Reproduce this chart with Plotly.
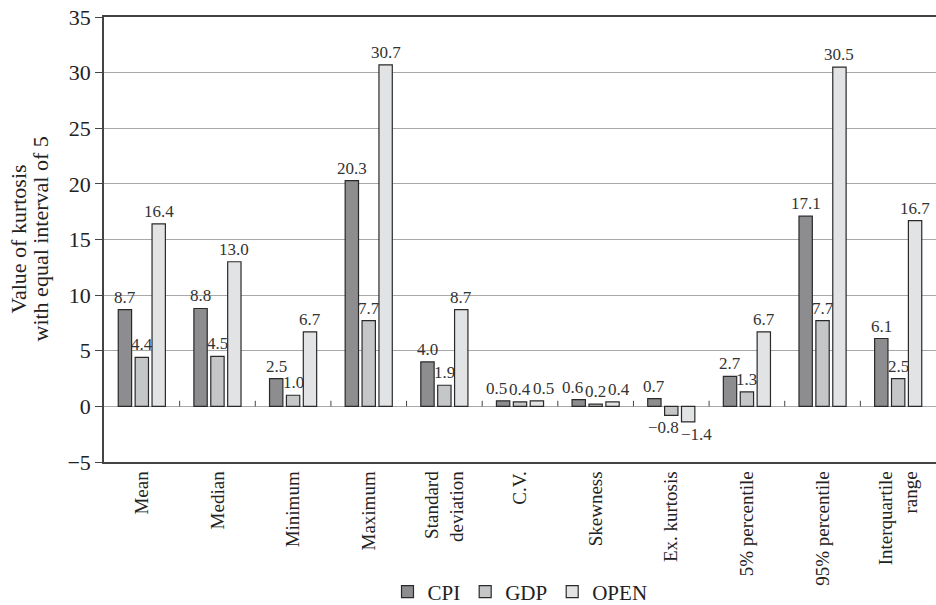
import plotly.graph_objects as go

categories = ["Mean", "Median", "Minimum", "Maximum", "Standard<br>deviation", "C.V.",
              "Skewness", "Ex. kurtosis", "5% percentile", "95% percentile", "Interquartile<br>range"]
cpi = [8.7, 8.8, 2.5, 20.3, 4.0, 0.5, 0.6, 0.7, 2.7, 17.1, 6.1]
gdp = [4.4, 4.5, 1.0, 7.7, 1.9, 0.4, 0.2, -0.8, 1.3, 7.7, 2.5]
open_ = [16.4, 13.0, 6.7, 30.7, 8.7, 0.5, 0.4, -1.4, 6.7, 30.5, 16.7]
series_names = ["CPI", "GDP", "OPEN"]
series_values = [cpi, gdp, open_]
series_colors = ["#8d8d90", "#c5c6c8", "#e2e3e5"]
y_title_lines = ["Value of kurtosis", "with equal interval of 5"]

FONT = "Liberation Serif, Times New Roman, serif"
W, H = 936, 605
ML, MR, MT, MB = 104, 0, 17, 143
YMIN, YMAX = -5, 35
BARGAP, GROUPGAP = 0.33, 0.21
LBL = 17  # label font size

def fmt(v):
    s = f"{abs(v):.1f}"
    return ("\u2212" + s) if v < 0 else s

def text_w(s):
    w = 0
    for ch in s:
        w += 0.25 if ch == "." else (0.564 if ch == "\u2212" else 0.5)
    return w * LBL

fig = go.Figure()
for name, vals, col in zip(series_names, series_values, series_colors):
    fig.add_trace(go.Bar(
        x=categories, y=vals, name=name,
        marker=dict(color=col, line=dict(color="#2a2a2a", width=1.2)),
    ))

# value labels (Excel-like: centred over each bar, nudged apart when they collide)
cat_px = (W - ML - MR) / len(categories)
slot = cat_px * (1 - BARGAP) / len(series_names)
px_per_unit = (H - MT - MB) / (YMAX - YMIN)
for ci, cat in enumerate(categories):
    labs = []
    for si, vals in enumerate(series_values):
        v = vals[ci]
        t = fmt(v)
        o = (si - (len(series_names) - 1) / 2) * slot
        vp = v * px_per_unit
        if v >= 0:
            rng = (vp + 3, vp + 18)
        else:
            rng = (vp - 18, vp - 3)
        labs.append(dict(v=v, t=t, o=o, x=o, w=text_w(t), rng=rng))
    chains = [[0]]
    for i in range(1, len(labs)):
        a, b = labs[i - 1], labs[i]
        vert = not (a["rng"][1] < b["rng"][0] or b["rng"][1] < a["rng"][0])
        need = a["x"] + (a["w"] + b["w"]) / 2 + 2
        if vert and need > b["o"]:
            b["x"] = need
            chains[-1].append(i)
        else:
            chains.append([i])
    for ch in chains:
        if len(ch) > 1:
            d = sum(labs[i]["o"] for i in ch) / len(ch) - sum(labs[i]["x"] for i in ch) / len(ch)
            for i in ch:
                labs[i]["x"] += d
    for L in labs:
        pos = L["v"] >= 0
        fig.add_annotation(x=cat, y=L["v"], xref="x", yref="y", text=L["t"], showarrow=False,
                           xshift=L["x"], yshift=1 if pos else -1,
                           xanchor="center", yanchor="bottom" if pos else "top",
                           font=dict(family=FONT, size=LBL, color="#333"))

# small separator ticks at the zero line between categories
for i in range(len(categories) - 1):
    fig.add_shape(type="line", xref="x", yref="y", x0=i + 0.5, x1=i + 0.5, y0=0, y1=0.5,
                  line=dict(color="#444", width=1))

# y-axis title as two rotated lines
for xs, line in zip([-86, -64], y_title_lines):
    fig.add_annotation(text=line, xref="paper", yref="paper", x=0, y=0.5,
                       xshift=xs, xanchor="center", yanchor="middle", textangle=-90,
                       showarrow=False, font=dict(family=FONT, size=22, color="#222"))

fig.update_layout(
    width=W, height=H,
    margin=dict(l=ML, r=MR, t=MT, b=MB, autoexpand=False),
    plot_bgcolor="white", paper_bgcolor="white",
    barmode="group", bargap=BARGAP, bargroupgap=GROUPGAP,
    font=dict(family=FONT, color="#222"),
    legend=dict(orientation="h", x=0.5, xanchor="center", y=-0.292, yanchor="middle",
                font=dict(family=FONT, size=21), tracegroupgap=0),
    xaxis=dict(tickangle=-90, tickfont=dict(family=FONT, size=19, color="#222"),
               showline=True, linecolor="#444", linewidth=1.5, mirror=True,
               ticks="", showgrid=False, automargin=False),
    yaxis=dict(range=[YMIN, YMAX], dtick=5, tickfont=dict(family=FONT, size=22, color="#222"),
               showline=True, linecolor="#444", linewidth=1.5,
               ticks="outside", ticklen=7, tickcolor="#444", automargin=False,
               showgrid=True, gridcolor="#a8a8a8", gridwidth=1,
               zeroline=True, zerolinecolor="#a8a8a8", zerolinewidth=1.2),
)

fig.write_html("out.html", config={"displayModeBar": False},
               post_script="document.body.style.margin='0px';")
